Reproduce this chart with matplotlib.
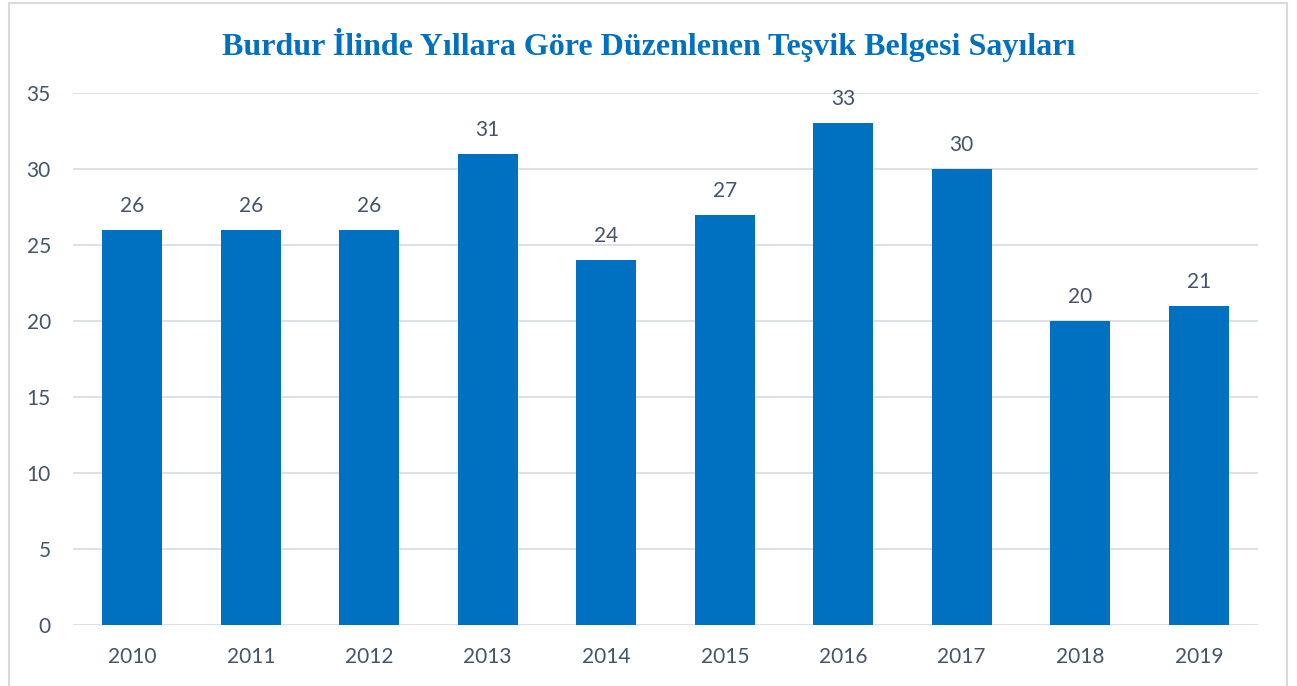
import matplotlib
matplotlib.use("Agg")
import matplotlib.pyplot as plt
from matplotlib.patches import Rectangle

years = ["2010", "2011", "2012", "2013", "2014", "2015", "2016", "2017", "2018", "2019"]
values = [26, 26, 26, 31, 24, 27, 33, 30, 20, 21]
yticks = [0, 5, 10, 15, 20, 25, 30, 35]
title = "Burdur İlinde Yıllara Göre Düzenlenen Teşvik Belgesi Sayıları"

W, H = 1297, 686
fig = plt.figure(figsize=(W / 100, H / 100), dpi=100)
fig.patch.set_facecolor("white")

# outer border
fig.patches.append(Rectangle((9 / W, -0.01), (1287 - 9) / W, (H - 3) / H + 0.01,
                             transform=fig.transFigure, fill=False,
                             edgecolor="#D9D9D9", linewidth=1.5))

left, right = 73 / W, 1258 / W
bottom, top = 1 - 625 / H, 1 - 93 / H
ax = fig.add_axes([left, bottom, right - left, top - bottom])

text_color = "#44546A"
bar_color = "#0070C0"
grid_color = "#D9DEE6"

x = list(range(len(years)))
ax.bar(x, values, width=0.505, color=bar_color, zorder=3)
ax.set_xlim(-0.5, len(years) - 0.5)
ax.set_ylim(0, 35)
ax.set_yticks(yticks)
ax.set_xticks(x)
ax.set_xticklabels(years)
for yv in yticks:
    ax.axhline(yv, color=grid_color, linewidth=1.3, zorder=1)

for s in ax.spines.values():
    s.set_visible(False)
ax.tick_params(axis="both", length=0, labelsize=15, labelcolor=text_color)
ax.tick_params(axis="x", pad=16)
ax.tick_params(axis="y", pad=16)
for lab in ax.get_xticklabels() + ax.get_yticklabels():
    lab.set_fontfamily("Lato")

for xi, v in zip(x, values):
    ax.annotate(str(v), (xi, v), xytext=(0, 24), textcoords="offset pixels",
                ha="center", va="center", fontsize=15, color=text_color,
                family="Lato")

fig.text(0.5, 1 - 45 / H, title, ha="center", va="center",
         fontsize=23, fontweight="bold", color=bar_color,
         family="Liberation Serif")

fig.savefig("out.png", dpi=100)
